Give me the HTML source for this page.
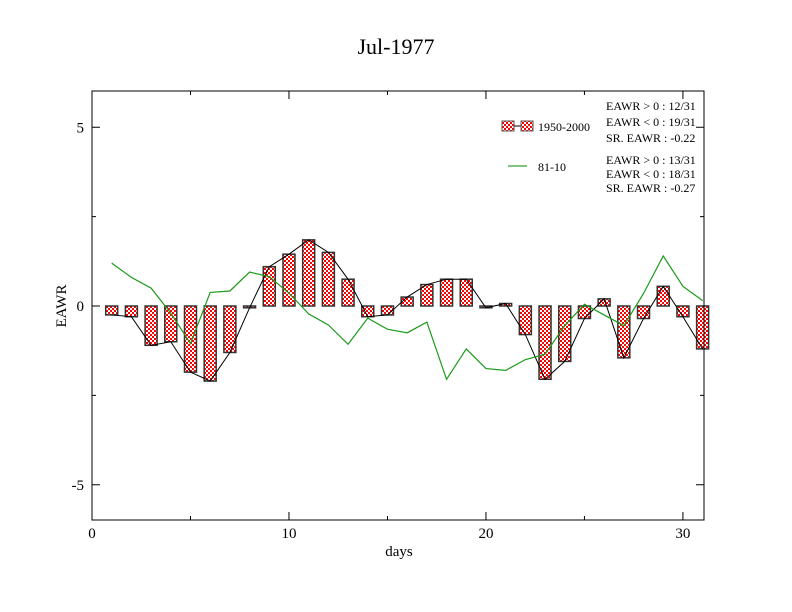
<!DOCTYPE html>
<html><head><meta charset="utf-8"><style>
body{margin:0;background:#fff}
svg{display:block;font-family:"Liberation Serif",serif}
</style></head><body>
<svg id="chart" width="792" height="612" viewBox="0 0 792 612">
<defs>
<pattern id="chk" width="4" height="4" patternUnits="userSpaceOnUse">
<rect width="4" height="4" fill="#fff"/><rect width="2" height="2" fill="#f00"/><rect x="2" y="2" width="2" height="2" fill="#f00"/>
</pattern>
</defs>
<text x="396" y="54" font-size="22" text-anchor="middle">Jul-1977</text>
<g id="plot"></g>
<rect x="92" y="91" width="612" height="429" fill="none" stroke="#000" stroke-width="1"/>
<text x="399" y="556" font-size="15" text-anchor="middle">days</text>
<text transform="translate(66,306) rotate(-90)" font-size="15" text-anchor="middle">EAWR</text>
<g font-size="12">
<rect x="502" y="121" width="12" height="10" fill="url(#chk)" stroke="#555"/>
<line x1="514" y1="126" x2="521" y2="126" stroke="#000"/>
<rect x="521" y="121" width="12" height="10" fill="url(#chk)" stroke="#555"/>
<text x="538" y="131">1950-2000</text>
<line x1="508" y1="166" x2="527" y2="166" stroke="#080"/>
<text x="538" y="171">81-10</text>
<text x="606" y="110">EAWR &gt; 0 : 12/31</text>
<text x="606" y="126">EAWR &lt; 0 : 19/31</text>
<text x="606" y="142">SR. EAWR : -0.22</text>
<text x="606" y="164">EAWR &gt; 0 : 13/31</text>
<text x="606" y="178">EAWR &lt; 0 : 18/31</text>
<text x="606" y="192">SR. EAWR : -0.27</text>
</g>
</svg>
<script>
const days=[1,2,3,4,5,6,7,8,9,10,11,12,13,14,15,16,17,18,19,20,21,22,23,24,25,26,27,28,29,30,31];
const bars1950=[-0.25,-0.3,-1.1,-1.0,-1.85,-2.1,-1.3,-0.05,1.1,1.45,1.85,1.5,0.75,-0.3,-0.25,0.25,0.6,0.75,0.75,-0.05,0.07,-0.8,-2.05,-1.55,-0.35,0.2,-1.45,-0.35,0.55,-0.3,-1.2];
const line8110=[1.2,0.8,0.5,-0.2,-1.05,0.38,0.42,0.95,0.82,0.36,-0.22,-0.53,-1.07,-0.34,-0.65,-0.75,-0.45,-2.05,-1.2,-1.75,-1.8,-1.5,-1.35,-0.55,0.05,-0.25,-0.55,0.35,1.4,0.55,0.15];
const xTicks=[0,10,20,30];
const yTicks=[-5,0,5];
const X=v=>92+v*(612/31.07);
const Y=v=>306-v*35.75;
const NS='http://www.w3.org/2000/svg';
const g=document.getElementById('plot');
function mk(t,a){const e=document.createElementNS(NS,t);for(const k in a)e.setAttribute(k,a[k]);g.appendChild(e);return e;}
yTicks.forEach(v=>{
 const y=Y(v);
 const l=mk('line',{x1:92,x2:100,y1:y,y2:y,stroke:'#000'});
 
 
 mk('line',{x1:696,x2:704,y1:y,y2:y,stroke:'#000'});
 const t=mk('text',{x:84,y:y+5,'font-size':15,'text-anchor':'end'});t.textContent=v;
 
 
});
[-4,-3,-2,-1,1,2,3,4].forEach(k=>{const y=Y(k*2.5/2);});
[-2.5,2.5].forEach(v=>{const y=Y(v);mk('line',{x1:92,x2:96,y1:y,y2:y,stroke:'#000'});mk('line',{x1:700,x2:704,y1:y,y2:y,stroke:'#000'});});
xTicks.forEach(v=>{
 const x=X(v);
 const l=mk('line',{x1:x,x2:x,y1:512,y2:520,stroke:'#000'});
 
 
 mk('line',{x1:x,x2:x,y1:91,y2:99,stroke:'#000'});
 const t=mk('text',{x:x,y:538,'font-size':15,'text-anchor':'middle'});t.textContent=v;
 
 
});
[5,15,25].forEach(v=>{const x=X(v);mk('line',{x1:x,x2:x,y1:516,y2:520,stroke:'#000'});mk('line',{x1:x,x2:x,y1:91,y2:95,stroke:'#000'});});
const bw=12;
days.forEach((d,i)=>{
 const v=bars1950[i];const y0=Y(0),y1=Y(v);
 const r=mk('rect',{x:X(d)-bw/2,y:Math.min(y0,y1),width:bw,height:Math.max(1.5,Math.abs(y1-y0)),fill:'url(#chk)',stroke:'#333','stroke-width':1.5});
 
 
});
const p1=mk('polyline',{points:days.map((d,i)=>X(d)+','+Y(bars1950[i])).join(' '),fill:'none',stroke:'#000','stroke-width':1});


const p2=mk('polyline',{points:days.map((d,i)=>X(d)+','+Y(line8110[i])).join(' '),fill:'none',stroke:'#1a9a1a','stroke-width':1.2});


</script>
</body></html>
